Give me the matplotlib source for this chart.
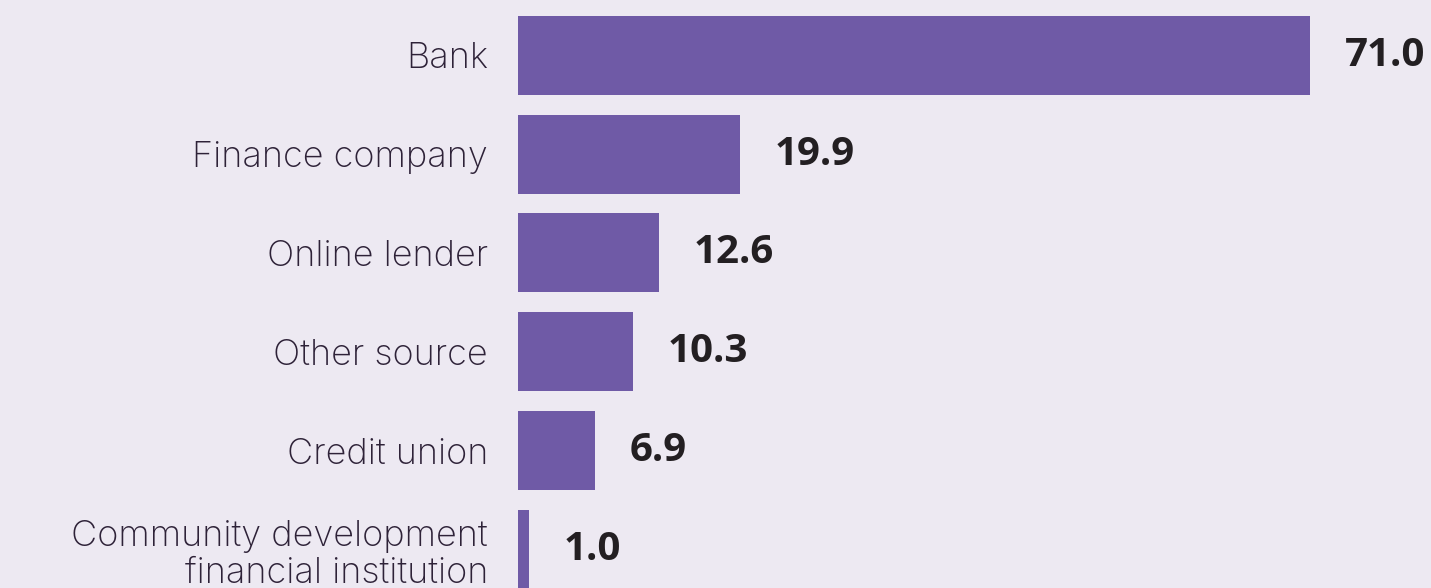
import matplotlib.pyplot as plt

categories = ['Bank', 'Finance company', 'Online lender', 'Other source',
              'Credit union', 'Community development\nfinancial institution']
values = [71.0, 19.9, 12.6, 10.3, 6.9, 1.0]

bg = '#EDE9F2'
bar_color = '#6F5AA6'
text_color = '#2E2238'

plt.rcParams['font.family'] = ['Open Sans', 'DejaVu Sans']

fig = plt.figure(figsize=(14.31, 5.88), dpi=100, facecolor=bg)
ax = fig.add_axes([518 / 1431, 0, 1 - 518 / 1431, 1], facecolor=bg)

pos = list(range(len(categories)))
ax.barh(pos, values, height=0.8, color=bar_color)

for y, v in zip(pos, values):
  ax.annotate(f'{v:.1f}', (v, y), xytext=(25, 0), textcoords='offset points',
              va='center', ha='left', fontsize=29, fontweight='bold',
              color='#231F22')

ax.set_xlim(0, 913 / 11.155)
ax.set_ylim(5.395, -0.562)
ax.set_yticks(pos)
ax.set_yticklabels(categories, fontsize=26, family=['Inter', 'DejaVu Sans'],
                   fontweight='light', color=text_color, linespacing=1.15)
ax.tick_params(axis='y', length=0, pad=21.6)
ax.set_xticks([])
for s in ax.spines.values():
  s.set_visible(False)

fig.savefig('out.png', dpi=100, facecolor=bg)
